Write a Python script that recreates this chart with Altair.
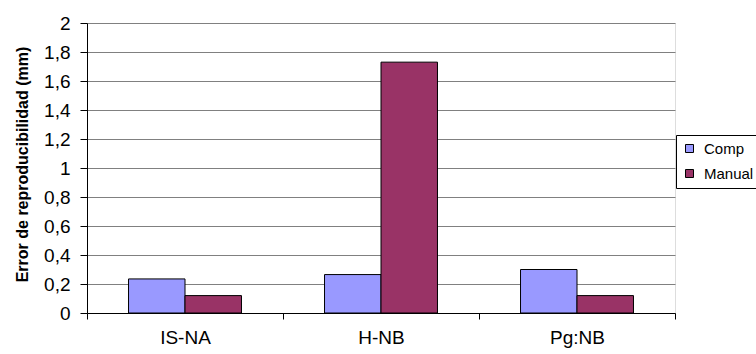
import altair as alt
import pandas as pd

categories = ["IS-NA", "H-NB", "Pg:NB"]
series = ["Comp", "Manual"]
comp_values = [0.235, 0.265, 0.30]
manual_values = [0.12, 1.73, 0.12]
colors = ["#9999FF", "#993366"]
y_ticks = [0, 0.2, 0.4, 0.6, 0.8, 1, 1.2, 1.4, 1.6, 1.8, 2]

rows = []
for i, c in enumerate(categories):
    rows.append({"cat": c, "serie": "Comp", "val": comp_values[i]})
    rows.append({"cat": c, "serie": "Manual", "val": manual_values[i]})
df = pd.DataFrame(rows)

FONT = "Liberation Sans"

chart = alt.Chart(df).mark_bar(stroke="black", strokeWidth=1).encode(
    x=alt.X("cat:N", sort=categories,
            scale=alt.Scale(paddingInner=0, paddingOuter=0),
            axis=alt.Axis(title=None, labelAngle=0, tickBand="extent",
                          tickSize=6, tickColor="black", domainColor="black",
                          labelFontSize=19, labelFont=FONT, labelColor="black",
                          labelPadding=9, grid=False)),
    xOffset=alt.XOffset("serie:N", sort=series,
                        scale=alt.Scale(paddingInner=0, paddingOuter=0.735)),
    y=alt.Y("val:Q", scale=alt.Scale(domain=[0, 2], nice=False),
            axis=alt.Axis(title="Error de reproducibilidad (mm)", values=y_ticks,
                          format="~g",
                          labelExpr="replace(datum.label, '.', ',')",
                          tickSize=7, tickColor="black", domainColor="black",
                          labelFontSize=19, labelFont=FONT, labelColor="black",
                          labelPadding=10,
                          grid=True, gridColor="#808080", gridWidth=1,
                          titleFont=FONT, titleFontSize=16, titleFontWeight="bold",
                          titleColor="black", titleX=-65, titleY=141,
                          titleAngle=-90, titleAlign="center", titleBaseline="middle")),
    color=alt.Color("serie:N", sort=series,
                    scale=alt.Scale(domain=series, range=colors),
                    legend=alt.Legend(title=None, orient="none", legendX=589, legendY=112,
                                      strokeColor="black", fillColor="white", padding=6,
                                      symbolType="square", symbolSize=64,
                                      symbolStrokeColor="black", symbolStrokeWidth=1,
                                      symbolOpacity=1,
                                      labelFont=FONT, labelFontSize=15, labelColor="black",
                                      labelOffset=7, rowPadding=9)),
).properties(
    width=588, height=290,
    autosize=alt.AutoSizeParams(type="none"),
    padding={"left": 87, "top": 23, "right": 81, "bottom": 41},
).configure_view(stroke="#808080", strokeWidth=1).configure(background="white")

chart.save("out.html", embed_options={"renderer": "svg", "actions": False})
